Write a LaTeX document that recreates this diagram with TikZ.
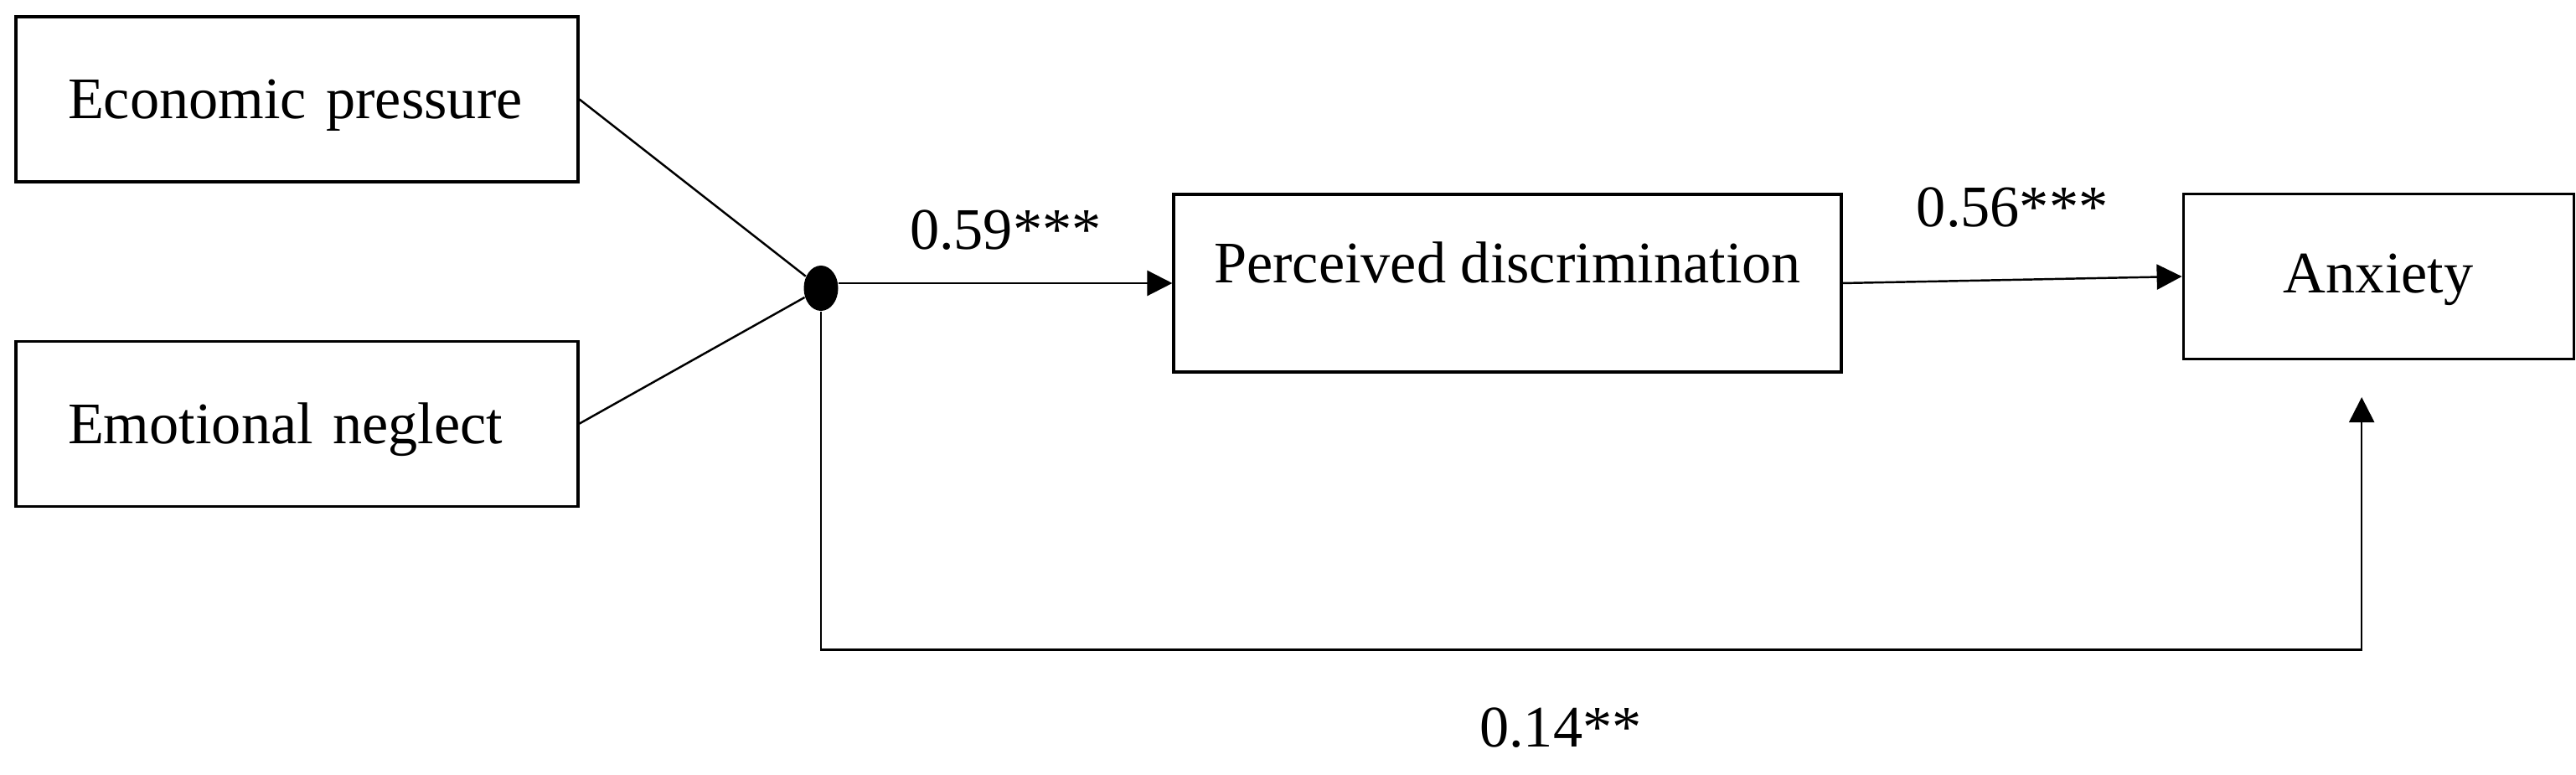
\documentclass[tikz,border=0pt]{standalone}
\usepackage{fontspec}
\setmainfont{Liberation Serif}
\usepackage{tikz}
\usetikzlibrary{arrows.meta,positioning,shapes.geometric}
\tikzset{
  var/.style={rectangle,draw,line width=0.9pt,minimum height=1.97cm,font=\fontsize{20}{24}\selectfont},
  lbl/.style={font=\fontsize{20}{24}\selectfont},
  ln/.style={line width=0.7pt},
  arr/.style={-{Triangle[length=3mm,width=3mm]},line width=0.7pt},
}

\begin{document}
\begin{tikzpicture}
  \useasboundingbox (0,0) rectangle (30.75,-9.25);
  \node[var,text width=5.47cm,inner xsep=0.62cm,align=left,text height=0.47cm,text depth=0cm] (ep) at (3.545,-1.185) {Economic pressure};
  \node[var,text width=5.47cm,inner xsep=0.62cm,align=left,text height=0.47cm,text depth=0cm,below=1.87cm of ep] (en) {Emotional neglect};
  \node[ellipse,fill=black,inner sep=0pt,minimum width=0.41cm,minimum height=0.54cm] (dot) at (9.80,-3.44) {};
  \node[var,minimum width=7.97cm,minimum height=2.12cm,text height=0.5cm,text depth=0.5cm] (pd) at (17.995,-3.38) {Perceived discrimination};
  \node[var,minimum width=4.66cm,text height=0.47cm,text depth=0.08cm,right=4.05cm of pd,yshift=0.08cm] (ax) {Anxiety};
  \draw[ln] (ep.east) -- (dot);
  \draw[ln] (en.east) -- (dot);
  \draw[arr] (dot.east |- pd.west) -- (pd.west) node[midway,above=0.27cm,lbl] {0.59***};
  \draw[arr] (pd.east) -- (ax.west) node[midway,above=0.5cm,lbl] {0.56***};
  \draw[arr] (dot.south) -- ++(0,-4.04) -| ([xshift=-0.2cm,yshift=-0.44cm]ax.south) node[pos=0.24,below=0.56cm,lbl] {0.14**};
\end{tikzpicture}
\end{document}
